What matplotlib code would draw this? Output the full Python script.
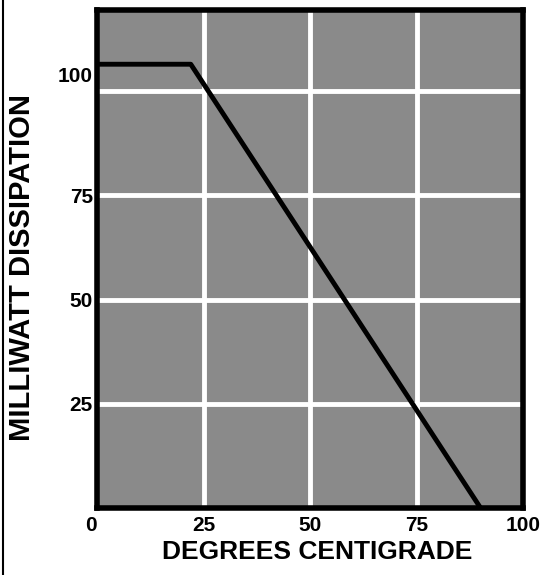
import matplotlib
matplotlib.use("Agg")
import matplotlib.pyplot as plt
from matplotlib.lines import Line2D

# derating curve
temp = [0, 22, 90]
power = [106.5, 106.5, 0]

xticks = [0, 25, 50, 75, 100]
xlabels = ["0", "25", "50", "75", "100"]
yticks = [25, 50, 75, 104]
ylabels = ["25", "50", "75", "100"]
grid_y = [25, 50, 75, 100]
grid_x = [25, 50, 75]

plt.rcParams['font.family'] = ['Liberation Sans', 'DejaVu Sans']
plt.rcParams['font.weight'] = 'bold'

fig = plt.figure(figsize=(5.45, 5.75), dpi=100)
ax = fig.add_axes([0.178, 0.1165, 0.782, 0.866])
ax.set_facecolor('#8a8a8a')

for g in grid_y:
    ax.axhline(g, color='white', lw=3.5, zorder=1)
for g in grid_x:
    ax.axvline(g, color='white', lw=3.5, zorder=1)

ax.plot(temp, power, color='black', lw=3.5, solid_capstyle='butt', zorder=3)

ax.set_xlim(0, 100)
ax.set_ylim(0, 119.5)
ax.set_xticks(xticks)
ax.set_xticklabels(xlabels)
ax.set_yticks(yticks)
ax.set_yticklabels(ylabels)
ax.tick_params(length=0, labelsize=15, pad=6)
ax.tick_params(axis='y', pad=3)
# the "0" sits a little left of the corner in the scan
ax.get_xticklabels()[0].set_horizontalalignment('right')

for s in ax.spines.values():
    s.set_linewidth(4)
    s.set_zorder(4)

ax.set_xlabel('DEGREES CENTIGRADE', fontsize=19, fontweight='bold')
ax.xaxis.set_label_coords(0.517, -0.065)
ax.set_ylabel('MILLIWATT DISSIPATION', fontsize=21, fontweight='bold')
ax.yaxis.set_label_coords(-0.143, 0.484)

fig.add_artist(Line2D([0.006, 0.006], [0, 1], color='black', lw=1.5))

fig.savefig('out.png', dpi=100)
